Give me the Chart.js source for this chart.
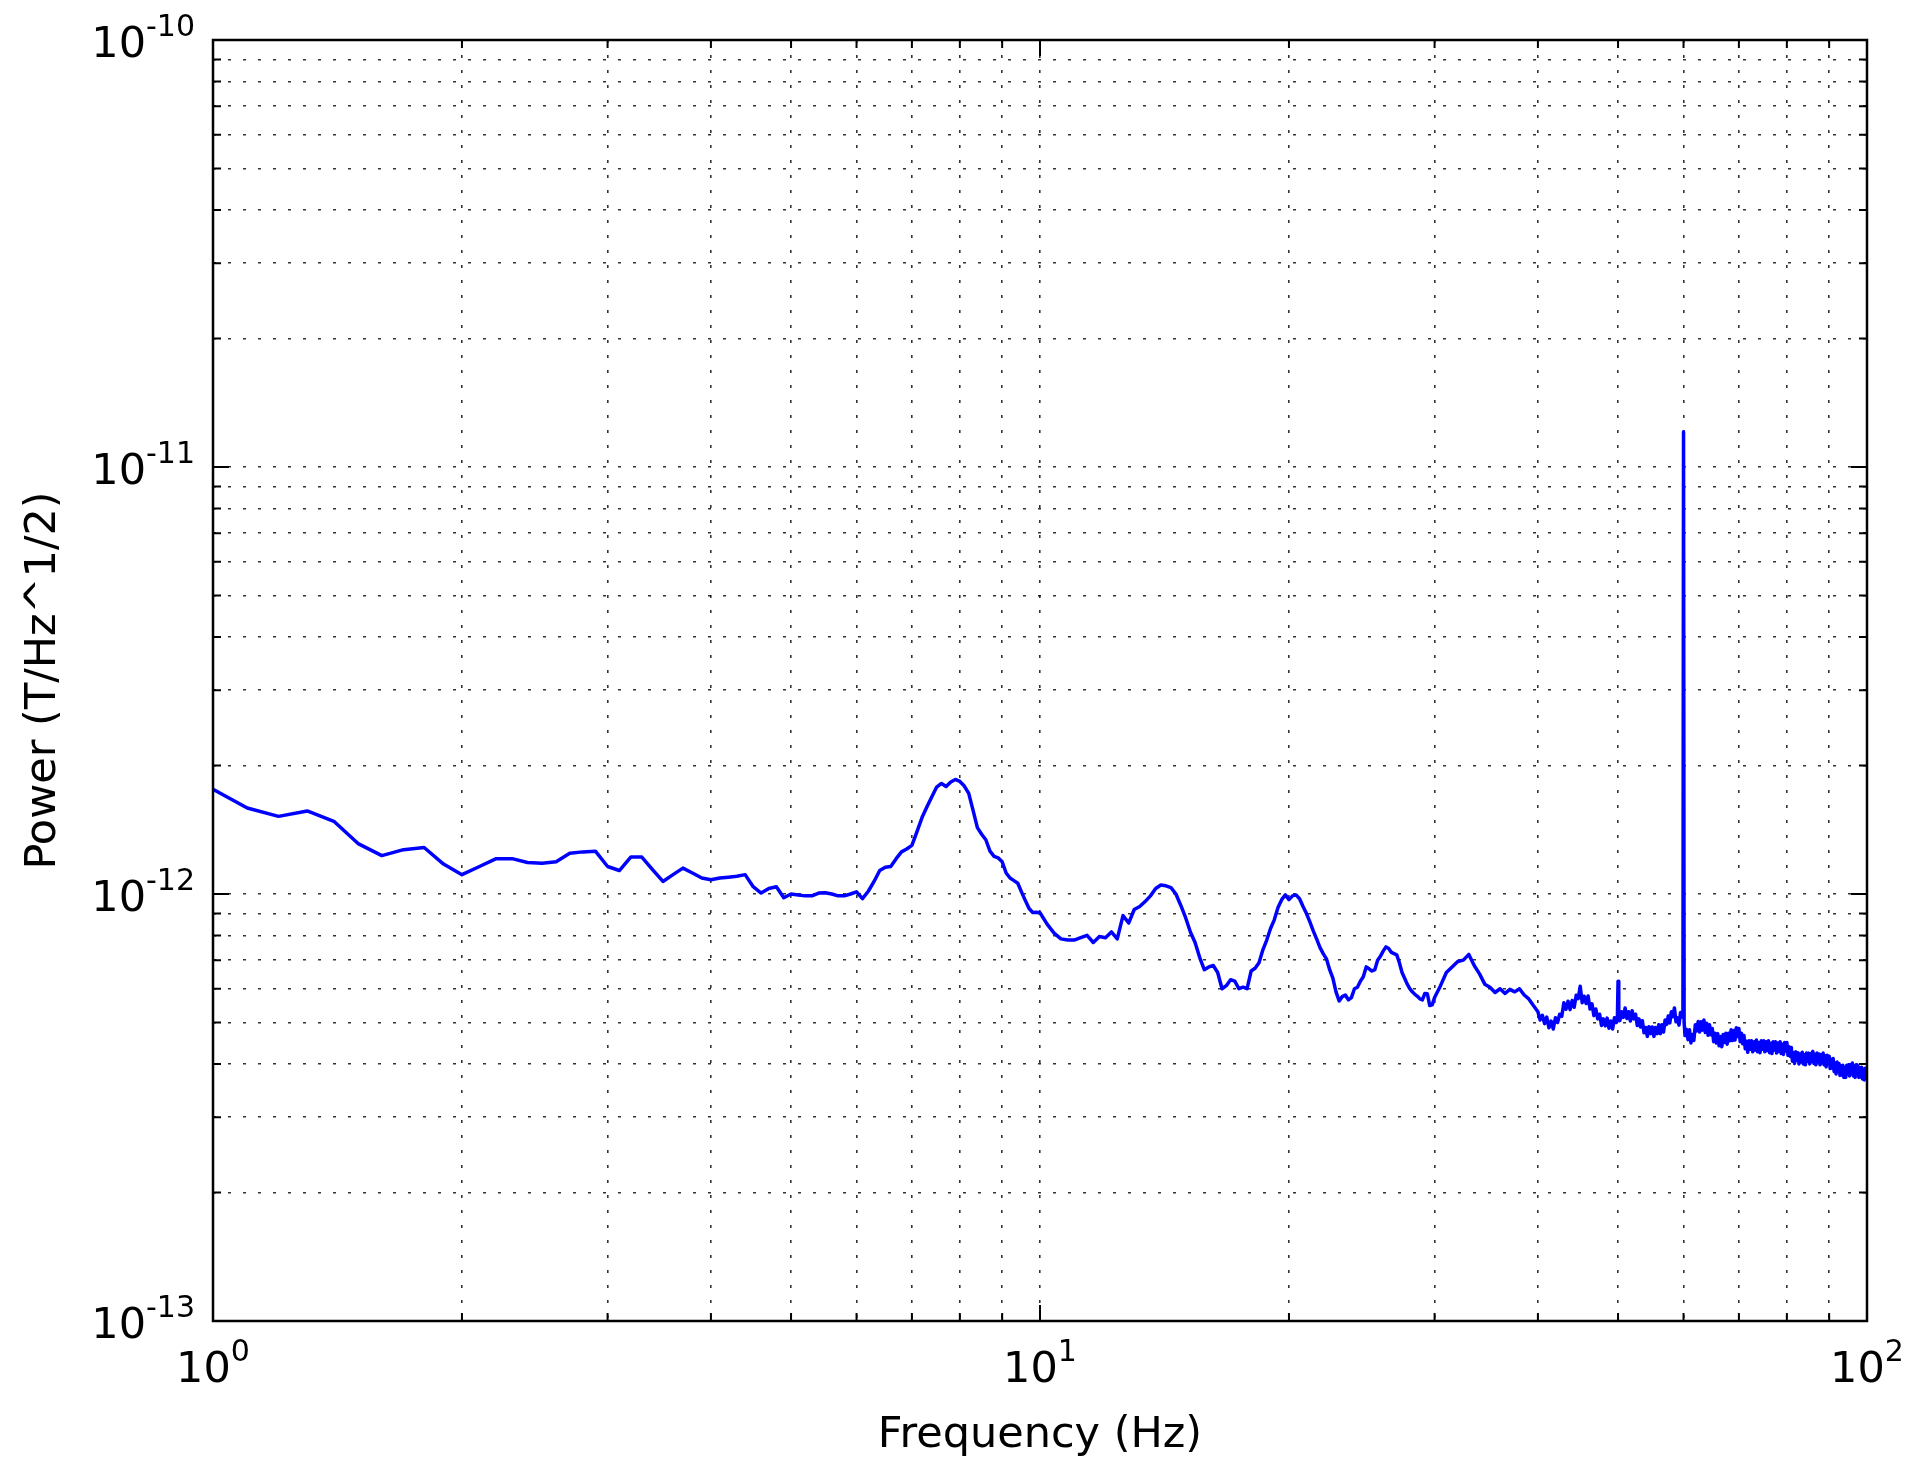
<!DOCTYPE html>
<html>
<head>
<meta charset="utf-8">
<title>Power spectrum</title>
<script src="https://cdn.jsdelivr.net/npm/chart.js@4.4.1/dist/chart.umd.min.js"></script>
<style>
  html, body { margin: 0; padding: 0; background: #fff; }
  #wrap { position: relative; width: 1911px; height: 1457px; }
</style>
</head>
<body>
<div id="wrap"><canvas id="psdCanvas"></canvas></div>
<script>
// Spectrum in bands, frequency in Hz and amplitude in units of 1e-12 T/Hz^1/2
const band1Hz = [
  1.0, 1.1, 1.2, 1.3, 1.4, 1.5, 1.6, 1.7, 1.8, 1.9,
  2.0, 2.1, 2.2, 2.3, 2.4, 2.5, 2.6, 2.7, 2.8, 2.9,
  3.0, 3.1, 3.2, 3.3, 3.4, 3.5, 3.6, 3.7, 3.8, 3.9,
  4.0, 4.1, 4.2, 4.3, 4.4, 4.5, 4.6, 4.7, 4.8, 4.9,
  5.0
];
const band1Psd = [
  1.76, 1.59, 1.52, 1.565, 1.48, 1.31, 1.23, 1.27, 1.285, 1.175,
  1.11, 1.16, 1.21, 1.21, 1.185, 1.18, 1.19, 1.245, 1.255, 1.26,
  1.16, 1.135, 1.22, 1.22, 1.14, 1.07, 1.11, 1.15, 1.12, 1.09,
  1.08, 1.09, 1.095, 1.10, 1.11, 1.04, 1.005, 1.03, 1.04, 0.98,
  1.0
];

const band2Hz = [
  5.1, 5.2, 5.3, 5.4, 5.5, 5.6, 5.7, 5.8, 5.9, 6.0,
  6.1, 6.2, 6.3, 6.4, 6.5, 6.6, 6.7, 6.8, 6.9, 7.0,
  7.1, 7.2, 7.3, 7.4, 7.5, 7.6, 7.7, 7.8, 7.9, 8.0,
  8.1, 8.2, 8.3, 8.4, 8.5, 8.6, 8.7, 8.8, 8.9, 9.0,
  9.1, 9.2, 9.3, 9.4, 9.5, 9.6, 9.7, 9.8, 9.9, 10.0
];
const band2Psd = [
  0.995, 0.99, 0.99, 1.005, 1.007, 1.0, 0.99, 0.99, 1.0, 1.012,
  0.975, 1.015, 1.07, 1.135, 1.155, 1.16, 1.21, 1.255, 1.275, 1.30,
  1.40, 1.51, 1.60, 1.69, 1.78, 1.815, 1.785, 1.83, 1.855, 1.835,
  1.79, 1.72, 1.57, 1.43, 1.38, 1.34, 1.26, 1.225, 1.215, 1.19,
  1.12, 1.09, 1.075, 1.06, 1.01, 0.965, 0.925, 0.905, 0.906, 0.904
];

const band3Hz = [
  10.2, 10.4, 10.6, 10.8, 11.0, 11.2, 11.4, 11.6, 11.8, 12.0,
  12.2, 12.4, 12.6, 12.8, 13.0, 13.2, 13.4, 13.6, 13.8, 14.0,
  14.2, 14.4, 14.6, 14.8, 15.0, 15.2, 15.4, 15.6, 15.8, 16.0,
  16.2, 16.4, 16.6, 16.8, 17.0, 17.2, 17.4, 17.6, 17.8, 18.0,
  18.2, 18.4, 18.6, 18.8, 19.0, 19.2, 19.4, 19.6, 19.8, 20.0,
  20.2, 20.4, 20.6, 20.8, 21.0, 21.2, 21.4, 21.6, 21.8, 22.0,
  22.2, 22.4, 22.6, 22.8, 23.0, 23.2, 23.4, 23.6, 23.8, 24.0,
  24.2, 24.4, 24.6, 24.8, 25.0, 25.2, 25.4, 25.6, 25.8, 26.0,
  26.2, 26.4, 26.6, 26.8, 27.0, 27.2, 27.4, 27.6, 27.8, 28.0,
  28.2, 28.4, 28.6, 28.8, 29.0, 29.2, 29.4, 29.6, 29.8, 30.0
];
const band3Psd = [
  0.85, 0.81, 0.785, 0.78, 0.78, 0.79, 0.80, 0.77, 0.795, 0.79,
  0.815, 0.785, 0.89, 0.855, 0.92, 0.935, 0.96, 0.99, 1.03, 1.05,
  1.045, 1.035, 1.0, 0.94, 0.88, 0.815, 0.77, 0.71, 0.665, 0.675,
  0.68, 0.655, 0.60, 0.61, 0.63, 0.625, 0.60, 0.605, 0.60, 0.66,
  0.67, 0.69, 0.74, 0.78, 0.83, 0.87, 0.93, 0.97, 0.995, 0.97,
  0.99, 0.995, 0.975, 0.935, 0.90, 0.86, 0.82, 0.785, 0.75, 0.725,
  0.705, 0.665, 0.635, 0.59, 0.562, 0.575, 0.58, 0.565, 0.572, 0.60,
  0.605, 0.625, 0.64, 0.675, 0.668, 0.66, 0.665, 0.70, 0.715, 0.735,
  0.752, 0.745, 0.73, 0.725, 0.72, 0.69, 0.655, 0.635, 0.615, 0.60,
  0.59, 0.582, 0.576, 0.568, 0.565, 0.585, 0.584, 0.548, 0.55, 0.572
];

const band4Hz = [
  30.5, 31.0, 31.5, 32.0, 32.5, 33.0, 33.5, 34.0, 34.5, 35.0,
  35.5, 36.0, 36.5, 37.0, 37.5, 38.0, 38.5, 39.0, 39.5, 40.0
];
const band4Psd = [
  0.610, 0.655, 0.675, 0.695, 0.700, 0.722, 0.680, 0.650, 0.615, 0.605,
  0.588, 0.600, 0.585, 0.598, 0.590, 0.600, 0.580, 0.568, 0.548, 0.530
];

// 40-60 Hz, noisy, with the 50 Hz line
const band5Hz = [
  40.25, 40.5, 40.75, 41.0, 41.25, 41.5, 41.75, 42.0, 42.25, 42.5,
  42.75, 43.0, 43.25, 43.5, 43.75, 44.0, 44.25, 44.5, 44.75, 45.0,
  45.25, 45.5, 45.75, 46.0, 46.25, 46.5, 46.75, 47.0, 47.25, 47.5,
  47.75, 48.0, 48.25, 48.5, 48.75, 49.0, 49.25, 49.5, 49.75,
  49.9, 50.0, 50.1,
  50.25, 50.5, 50.75, 51.0, 51.25, 51.5, 51.75, 52.0, 52.25, 52.5,
  52.75, 53.0, 53.25, 53.5, 53.75, 54.0, 54.25, 54.5, 54.75, 55.0,
  55.25, 55.5, 55.75, 56.0, 56.25, 56.5, 56.75, 57.0, 57.25, 57.5,
  57.75, 58.0, 58.25, 58.5, 58.75, 59.0, 59.25, 59.5, 59.75
];
const band5Psd = [
  0.507, 0.520, 0.497, 0.515, 0.486, 0.504, 0.483, 0.513, 0.500, 0.523,
  0.517, 0.556, 0.537, 0.561, 0.536, 0.563, 0.543, 0.579, 0.569, 0.608,
  0.556, 0.576, 0.554, 0.577, 0.538, 0.553, 0.519, 0.538, 0.510, 0.523,
  0.492, 0.510, 0.491, 0.512, 0.485, 0.504, 0.483, 0.513, 0.500,
  0.505, 0.625, 0.515,
  0.505, 0.530, 0.514, 0.541, 0.511, 0.530, 0.504, 0.533, 0.510, 0.523,
  0.492, 0.510, 0.488, 0.505, 0.473, 0.487, 0.464, 0.489, 0.471, 0.488,
  0.464, 0.487, 0.471, 0.494, 0.471, 0.494, 0.475, 0.507, 0.495, 0.518,
  0.499, 0.530, 0.516, 0.541, 0.502, 0.513, 0.493, 0.528, 0.515
];

// 60-100 Hz, the 60 Hz line and the noisy tail
const band6Hz = [
  59.9, 60.0, 60.1,
  60.25, 60.5, 60.75, 61.0, 61.25, 61.5, 61.75, 62.0, 62.25, 62.5,
  62.75, 63.0, 63.25, 63.5, 63.75, 64.0, 64.25, 64.5, 64.75, 65.0,
  65.25, 65.5, 65.75, 66.0, 66.25, 66.5, 66.75, 67.0, 67.25, 67.5,
  67.75, 68.0, 68.25, 68.5, 68.75, 69.0, 69.25, 69.5, 69.75, 70.0,
  70.25, 70.5, 70.75, 71.0, 71.25, 71.5, 71.75, 72.0, 72.25, 72.5,
  72.75, 73.0, 73.25, 73.5, 73.75, 74.0, 74.25, 74.5, 74.75, 75.0,
  75.25, 75.5, 75.75, 76.0, 76.25, 76.5, 76.75, 77.0, 77.25, 77.5,
  77.75, 78.0, 78.25, 78.5, 78.75, 79.0, 79.25, 79.5, 79.75, 80.0,
  80.25, 80.5, 80.75, 81.0, 81.25, 81.5, 81.75, 82.0, 82.25, 82.5,
  82.75, 83.0, 83.25, 83.5, 83.75, 84.0, 84.25, 84.5, 84.75, 85.0,
  85.25, 85.5, 85.75, 86.0, 86.25, 86.5, 86.75, 87.0, 87.25, 87.5,
  87.75, 88.0, 88.25, 88.5, 88.75, 89.0, 89.25, 89.5, 89.75, 90.0,
  90.25, 90.5, 90.75, 91.0, 91.25, 91.5, 91.75, 92.0, 92.25, 92.5,
  92.75, 93.0, 93.25, 93.5, 93.75, 94.0, 94.25, 94.5, 94.75, 95.0,
  95.25, 95.5, 95.75, 96.0, 96.25, 96.5, 96.75, 97.0, 97.25, 97.5,
  97.75, 98.0, 98.25, 98.5, 98.75, 99.0, 99.25, 99.5, 99.75, 100.0
];
const band6Psd = [
  0.520, 12.1, 0.500,
  0.466, 0.482, 0.456, 0.481, 0.448, 0.469, 0.454, 0.494, 0.478, 0.503,
  0.475, 0.502, 0.480, 0.507, 0.474, 0.498, 0.467, 0.494, 0.468, 0.484,
  0.451, 0.472, 0.448, 0.471, 0.441, 0.464, 0.439, 0.469, 0.449, 0.472,
  0.445, 0.472, 0.453, 0.481, 0.454, 0.479, 0.455, 0.486, 0.464, 0.484,
  0.451, 0.472, 0.446, 0.466, 0.434, 0.452, 0.426, 0.453, 0.433, 0.453,
  0.427, 0.451, 0.431, 0.455, 0.427, 0.449, 0.425, 0.453, 0.433, 0.453,
  0.427, 0.451, 0.430, 0.453, 0.425, 0.447, 0.423, 0.451, 0.431, 0.451,
  0.424, 0.448, 0.428, 0.451, 0.423, 0.445, 0.421, 0.449, 0.429, 0.449,
  0.419, 0.439, 0.417, 0.437, 0.406, 0.425, 0.401, 0.427, 0.408, 0.425,
  0.400, 0.422, 0.404, 0.426, 0.400, 0.420, 0.398, 0.424, 0.406, 0.424,
  0.400, 0.423, 0.405, 0.428, 0.401, 0.421, 0.398, 0.424, 0.405, 0.422,
  0.398, 0.420, 0.402, 0.424, 0.398, 0.418, 0.394, 0.419, 0.400, 0.417,
  0.390, 0.410, 0.391, 0.412, 0.384, 0.402, 0.379, 0.404, 0.384, 0.401,
  0.376, 0.396, 0.377, 0.397, 0.372, 0.392, 0.372, 0.397, 0.380, 0.398,
  0.375, 0.398, 0.380, 0.402, 0.375, 0.395, 0.372, 0.398, 0.379, 0.396,
  0.372, 0.392, 0.373, 0.393, 0.369, 0.388, 0.367, 0.391, 0.374, 0.382
];

// Grid positions (every 1..9 of each decade) and the labelled decades
const xTickValues = [1, 2, 3, 4, 5, 6, 7, 8, 9, 10, 20, 30, 40, 50, 60, 70, 80, 90, 100];
const yTickValues = [
  1e-13, 2e-13, 3e-13, 4e-13, 5e-13, 6e-13, 7e-13, 8e-13, 9e-13,
  1e-12, 2e-12, 3e-12, 4e-12, 5e-12, 6e-12, 7e-12, 8e-12, 9e-12,
  1e-11, 2e-11, 3e-11, 4e-11, 5e-11, 6e-11, 7e-11, 8e-11, 9e-11,
  1e-10
];
const xMajorValues = [1, 10, 100];
const xMajorExponents = ['0', '1', '2'];
const yMajorValues = [1e-13, 1e-12, 1e-11, 1e-10];
const yMajorExponents = ['-13', '-12', '-11', '-10'];

const freqHz = band1Hz.concat(band2Hz, band3Hz, band4Hz, band5Hz, band6Hz);
const psdPico = band1Psd.concat(band2Psd, band3Psd, band4Psd, band5Psd, band6Psd);
const points = freqHz.map((f, i) => ({ x: f, y: psdPico[i] * 1e-12 }));

const FONT = 'DejaVu Sans';

// Frame, inward ticks on all four sides and 10^n tick labels
const axisDecorations = {
  id: 'axisDecorations',
  afterDatasetsDraw(chart) {
    const { ctx, chartArea: area, scales: { x, y } } = chart;
    ctx.save();
    ctx.strokeStyle = '#000';
    ctx.lineWidth = 2;

    xTickValues.forEach(v => {
      const px = x.getPixelForValue(v);
      const len = xMajorValues.includes(v) ? 16 : 8;
      ctx.beginPath();
      ctx.moveTo(px, area.bottom);
      ctx.lineTo(px, area.bottom - len);
      ctx.moveTo(px, area.top);
      ctx.lineTo(px, area.top + len);
      ctx.stroke();
    });
    yTickValues.forEach(v => {
      const py = y.getPixelForValue(v);
      const len = yMajorValues.includes(v) ? 16 : 8;
      ctx.beginPath();
      ctx.moveTo(area.left, py);
      ctx.lineTo(area.left + len, py);
      ctx.moveTo(area.right, py);
      ctx.lineTo(area.right - len, py);
      ctx.stroke();
    });

    ctx.lineWidth = 2.5;
    ctx.strokeRect(area.left, area.top, area.right - area.left, area.bottom - area.top);

    ctx.fillStyle = '#000';
    ctx.textBaseline = 'alphabetic';
    ctx.textAlign = 'left';
    const baseFont = '43px "' + FONT + '"';
    const supFont = '30px "' + FONT + '"';

    // x labels centred under each decade
    xMajorValues.forEach((v, i) => {
      const px = x.getPixelForValue(v);
      ctx.font = baseFont;
      const wBase = ctx.measureText('10').width;
      ctx.font = supFont;
      const wSup = ctx.measureText(xMajorExponents[i]).width;
      const start = px - (wBase + wSup) / 2;
      ctx.font = baseFont;
      ctx.fillText('10', start, area.bottom + 61);
      ctx.font = supFont;
      ctx.fillText(xMajorExponents[i], start + wBase, area.bottom + 40);
    });

    // y labels right-aligned left of the axis
    yMajorValues.forEach((v, i) => {
      const py = y.getPixelForValue(v);
      const right = area.left - 18;
      ctx.font = supFont;
      const wSup = ctx.measureText(yMajorExponents[i]).width;
      ctx.font = baseFont;
      const wBase = ctx.measureText('10').width;
      ctx.fillText('10', right - wSup - wBase, py + 17);
      ctx.font = supFont;
      ctx.fillText(yMajorExponents[i], right - wSup, py - 4.5);
    });
    ctx.restore();
  }
};

const psdCanvas = document.getElementById('psdCanvas');
const ctx = psdCanvas.getContext('2d');

let psdChart = new Chart(ctx, {
  type: 'line',
  data: {
    datasets: [{
      label: 'PSD',
      data: points,
      borderColor: '#0000ff',
      borderWidth: 3.5,
      borderJoinStyle: 'round',
      pointRadius: 0,
      tension: 0,
      fill: false
    }]
  },
  options: {
    responsive: true,
    maintainAspectRatio: false,
    animation: false,
    layout: { padding: { top: 40, right: 44, left: 0, bottom: 0 } },
    plugins: {
      legend: { display: false },
      tooltip: { enabled: false }
    },
    scales: {
      x: {
        type: 'logarithmic',
        min: 1,
        max: 100,
        afterBuildTicks: scale => { scale.ticks = xTickValues.map(v => ({ value: v })); },
        afterFit: scale => { scale.height = 136; },
        ticks: { display: false, autoSkip: false },
        grid: { color: 'rgba(0,0,0,0.8)', lineWidth: 1.6, drawTicks: false },
        border: { display: false, dash: [3, 12] },
        title: {
          display: true,
          text: 'Frequency (Hz)',
          color: '#000',
          font: { family: FONT, size: 43, lineHeight: 1 },
          padding: { top: 0, bottom: 0 }
        }
      },
      y: {
        type: 'logarithmic',
        min: 1e-13,
        max: 1e-10,
        afterBuildTicks: scale => { scale.ticks = yTickValues.map(v => ({ value: v })); },
        afterFit: scale => { scale.width = 213; },
        ticks: { display: false, autoSkip: false },
        grid: { color: 'rgba(0,0,0,0.8)', lineWidth: 1.6, drawTicks: false },
        border: { display: false, dash: [3, 12] },
        title: {
          display: true,
          text: 'Power (T/Hz^1/2)',
          color: '#000',
          font: { family: FONT, size: 43 },
          padding: { top: 18, bottom: 0 }
        }
      }
    }
  },
  plugins: [axisDecorations]
});
</script>
</body>
</html>
